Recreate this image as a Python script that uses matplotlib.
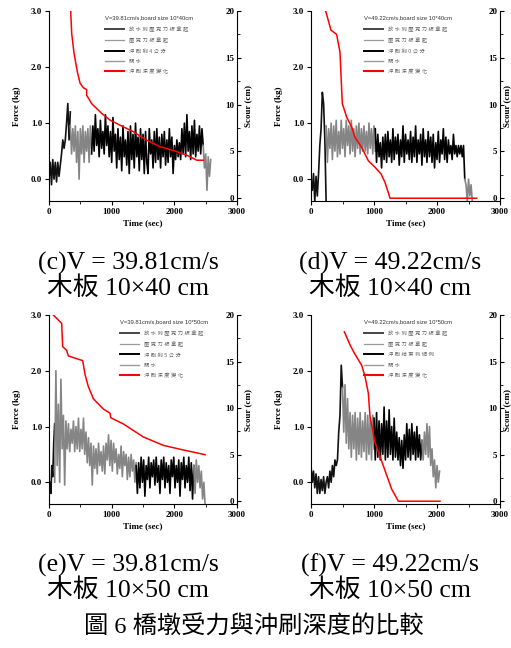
import numpy as np
import matplotlib.pyplot as plt
from matplotlib.lines import Line2D
from matplotlib.ticker import MultipleLocator, FormatStrFormatter

SERIF = ['Liberation Serif', 'Noto Sans CJK TC']
SANS = ['Liberation Sans', 'Noto Sans CJK TC']
plt.rcParams['font.family'] = SERIF

# force segments: (start time, step in sec, force values in kg)
c_seg1 = (0, 20, [0.0, 0.3, -0.1, 0.35, 0.0, 0.3, -0.05, 0.3, 0.05, 0.25, 0.45, 0.7, 0.55, 0.7, 1.0, 1.35, 0.7, 1.2])
c_seg2 = (340, 20, [0.95, 0.45, 0.9, 0.5, 0.95, 0.3, 0.85, 0.0, 0.9, 0.45, 0.95, 0.3, 0.85, 0.5, 0.9, 0.3, 0.95, 0.55])
c_seg3 = (680, 20, [0.45, 0.95, 0.5, 1.15, 0.6, 0.9, 0.4, 1.05, 0.55, 0.85,
                    0.45, 1.15, 0.6, 0.95, 0.4, 0.85, 0.3, 1.1, 0.5, 0.8,
                    0.2, 0.9, 0.35, 0.75, 0.15, 0.95, 0.4, 0.7, 0.25, 0.85,
                    0.1, 0.95, 0.35, 0.8, 0.2, 1.0, 0.4, 0.75, 0.15, 0.9,
                    0.35, 0.8, 0.1, 0.85, 0.3, 0.1, 0.9, 0.45, 0.7, 0.2,
                    0.85, 0.3, 0.9, 0.35, 0.75, 0.2, 0.8, 0.4, 0.85, 0.25,
                    0.7, 0.3, 0.9, 0.4, 0.75, 0.1, 0.6, 0.35, 0.7, 0.4,
                    0.65, 0.35, 0.9, 0.45, 1.0, 0.4, 1.15, 0.5, 0.85, 0.35,
                    0.95, 0.45, 1.05, 0.4, 0.8, 0.5, 0.95, 0.45, 0.9, 0.6])
c_seg4 = (2460, 20, [0.6, 0.2, 0.45, -0.2, 0.4, 0.05, 0.35])
c_scour_t = [346, 362, 399, 452, 495, 548, 601, 601, 681, 841, 974, 1133, 1346, 1559, 1772, 1984, 2198, 2357, 2464]
c_scour = [20, 17.6, 15.5, 13.5, 12.3, 11.8, 11.6, 11.0, 10.1, 9.06, 8.34, 7.8, 7.1, 6.2, 5.5, 5.1, 4.6, 4.06, 4.06]

d_seg1 = (0, 20, [0.0, -0.2, 0.1, -0.4, 0.05, -0.3, 0.1, 0.6, 0.9, 1.55, 1.35, 0.7, -0.4])
d_seg2 = (240, 20, [0.95, 0.3, 0.9, 0.55, 1.0, 0.35, 0.95, 0.5, 1.05, 0.4,
                    0.85, 0.45, 1.05, 0.55, 0.9, 0.4, 1.05, 0.6, 0.95, 0.45,
                    1.05, 0.5, 0.9, 0.4, 0.95, 0.55, 1.0, 0.45, 0.9, 0.5,
                    0.95, 0.5, 0.85, 0.45, 1.0, 0.55, 0.9, 0.45, 0.95, 0.5])
d_seg3 = (1020, 20, [0.9, 0.3, 0.8, 0.4, 0.65, 0.2, 0.75, 0.35, 0.8, 0.3,
                     0.85, 0.4, 0.7, 0.3, 0.9, 0.35, 0.75, 0.45, 0.8, 0.25,
                     0.7, 0.4, 0.95, 0.3, 0.8, 0.45, 0.7, 0.35, 0.85, 0.3,
                     0.75, 0.4, 0.95, 0.3, 0.7, 0.45, 0.8, 0.25, 0.9, 0.4,
                     0.7, 0.3, 0.85, 0.4, 0.75, 0.3, 0.8, 0.2, 0.65, 0.35,
                     0.85, 0.3, 0.7, 0.45, 0.9, 0.35, 0.75, 0.3, 0.7, 0.45,
                     0.6, 0.35, 0.8, 0.45, 0.6, 0.4, 0.6, 0.45, 0.6, 0.4,
                     0.6, 0.0])
d_seg4 = (2440, 20, [0.0, -0.1, -0.4, 0.0, -0.3, -0.1, -0.4])
d_scour_t = [233, 317, 407, 460, 497, 566, 646, 698, 804, 910, 1016, 1111, 1174, 1254, 2630]
d_scour = [20, 17.96, 17.5, 15.6, 10.1, 8.67, 7.6, 6.5, 5.43, 4.0, 3.3, 2.6, 1.7, 0, 0]

e_seg1 = (0, 15, [-0.3, 0.0, -0.2, 0.3, 0.1, 0.7, 1.05])
e_seg2 = (90, 20, [0.0, 2.0, 0.3, 1.4, 0.0, 1.85, 0.6, 1.2, -0.05, 1.1,
                   0.6, 1.05, 0.55, 0.95, 0.7, 1.1, 0.55, 1.0, 0.6, 1.15,
                   0.55, 0.95, 0.6, 1.15, 0.5, 0.9, 0.35, 0.8, 0.3, 0.7,
                   -0.05, 0.65, 0.25, 0.6, 0.15, 0.7, 0.3, 0.55, 0.2, 0.65,
                   0.15, 0.7, 0.4, 0.85, 0.3, 0.75, 0.2, 0.7, 0.35, 0.6,
                   0.15, 0.5, 0.25, 0.65, 0.1, 0.55, 0.3, 0.5, 0.05, 0.45,
                   0.1, 0.5, 0.2, 0.4, 0.0, 0.35])
e_seg3 = (1390, 20, [0.3, -0.2, 0.35, -0.1, 0.45, 0.0, 0.4, -0.25, 0.3, 0.05,
                     0.45, -0.1, 0.35, 0.1, 0.4, -0.05, 0.45, 0.0, 0.3, -0.2,
                     0.4, 0.05, 0.45, -0.1, 0.35, 0.0, 0.3, -0.2, 0.4, 0.1,
                     0.45, -0.1, 0.3, 0.0, 0.4, -0.25, 0.35, 0.05, 0.45, -0.1,
                     0.3, 0.0, 0.45, -0.15, 0.35, -0.3, 0.3])
e_seg4 = (2310, 20, [0.3, -0.2, 0.4, 0.0, 0.3, -0.1, 0.2, -0.3, 0.0, -0.4])
e_scour_t = [69, 202, 218, 282, 309, 537, 575, 628, 708, 867, 974, 984, 1186, 1505, 1824, 2144, 2490]
e_scour = [20, 19.1, 16.6, 16.2, 15.6, 15.1, 13.6, 12.3, 11.0, 9.9, 9.45, 8.97, 8.3, 6.9, 6.0, 5.5, 5.0]

f_seg1 = (0, 20, [0.3, 0.0, 0.2, -0.1, 0.15, -0.2, 0.1, -0.2, 0.05, -0.15,
                  0.1, -0.2, 0.0, 0.1, -0.1, 0.2, 0.0, 0.3, 0.1, 0.4,
                  0.3, 0.4, 0.9, 1.2, 2.1, 1.7])
f_seg2 = (500, 20, [1.7, 0.9, 1.75, 0.7, 1.5, 0.6, 1.25, 0.45, 1.2, 0.6,
                    1.25, 0.4, 1.15, 0.5, 1.25, 0.45, 1.1, 0.55, 1.25, 0.4,
                    1.2, 0.5, 1.15, 0.4, 1.2, 0.6])
f_seg3 = (1000, 20, [1.15, 0.4, 1.25, 0.45, 1.1, 0.4, 1.05, 0.5, 1.35, 0.4,
                     1.1, 0.45, 1.3, 0.5, 1.0, 0.4, 1.15, 0.45, 0.9, 0.4,
                     0.8, 0.3, 0.75, 0.25, 0.85, 0.4, 1.05, 0.45, 0.95, 0.4,
                     1.05, 0.5, 0.9, 0.4, 1.0, 0.45, 0.85, 0.4, 0.75])
f_seg4 = (1760, 20, [0.75, 0.4, 0.9, 0.5, 1.05, 0.45, 1.0, 0.3, 0.6, 0.1, 0.4, -0.1, 0.3, 0.0, 0.2])
f_scour_t = [529, 619, 688, 804, 857, 910, 936, 1016, 1148, 1280, 1386, 2047]
f_scour = [18.2, 16.8, 15.9, 14.6, 13.4, 11.6, 9.1, 6.3, 3.8, 1.3, 0, 0]

labels_c = ['放水到壓克力板拿起', '壓克力板拿起', '沖刷剩4公分', '關水', '沖刷深度變化']
labels_d = ['放水到壓克力板拿起', '壓克力板拿起', '沖刷剩0公分', '關水', '沖刷深度變化']
labels_e = ['放水到壓克力板拿起', '壓克力板拿起', '沖刷剩5公分', '關水', '沖刷深度變化']
labels_f = ['放水到壓克力板拿起', '壓克力板拿起', '沖刷結束到傾倒', '關水', '沖刷深度變化']

captions = ['(c)V = 39.81cm/s\n木板 10×40 cm', '(d)V = 49.22cm/s\n木板 10×40 cm',
            '(e)V = 39.81cm/s\n木板 10×50 cm', '(f)V = 49.22cm/s\n木板 10×50 cm']

seg_colors = ['#111111', '#858585', 'black', '#858585']
leg_colors = ['#444444', '#9a9a9a', 'black', '#9a9a9a']

fig = plt.figure(figsize=(5.11, 6.48), dpi=100)


def panel(rect, segs, st, sv, labels, title, leg_x, rlab_x):
    ax = fig.add_axes(rect)
    for (t0, dt, v), c in zip(segs, seg_colors):
        t = t0 + dt * np.arange(len(v))
        ax.plot(t, v, color=c, lw=1.2)
    ax.set_xlim(0, 3000)
    ax.set_ylim(-0.39, 3.0)
    ax.set_xticks([0, 1000, 2000, 3000])
    ax.xaxis.set_minor_locator(MultipleLocator(500))
    ax.set_yticks([0, 1, 2, 3])
    ax.yaxis.set_major_formatter(FormatStrFormatter('%.1f'))
    ax.spines['top'].set_visible(False)
    ax.spines['right'].set_visible(False)
    for s in ['left', 'bottom']:
        ax.spines[s].set_linewidth(0.8)
    ax.tick_params(which='major', direction='out', length=3, width=0.8, labelsize=6.5, pad=2)
    ax.tick_params(which='minor', direction='out', length=2, width=0.6)
    plt.setp(ax.get_xticklabels() + ax.get_yticklabels(), fontweight='bold')
    ax.set_xlabel('Time (sec)', fontsize=6.5, fontweight='bold', labelpad=2)
    ax.set_ylabel('Force (kg)', fontsize=6.5, fontweight='bold', labelpad=7)

    ax2 = ax.twinx()
    ax2.plot(st, sv, color='red', lw=1.1)
    ax2.set_ylim(-0.3, 20)
    ax2.set_yticks([0, 5, 10, 15, 20])
    ax2.yaxis.set_minor_locator(MultipleLocator(2.5))
    for s in ['top', 'left', 'bottom']:
        ax2.spines[s].set_visible(False)
    ax2.spines['right'].set_linewidth(0.8)
    ax2.tick_params(axis='y', which='major', direction='out', length=3, width=0.8, labelsize=6.5, pad=-5)
    ax2.tick_params(axis='y', which='minor', direction='out', length=2, width=0.6)
    plt.setp(ax2.get_yticklabels(), fontweight='bold', ha='right')
    ax2.set_ylabel('Scour (cm)', fontsize=6.5, fontweight='bold')
    ax2.yaxis.set_label_coords(rlab_x, 0.5)

    handles = [Line2D([], [], color=leg_colors[0], lw=1.4),
               Line2D([], [], color=leg_colors[1], lw=0.9),
               Line2D([], [], color=leg_colors[2], lw=1.4),
               Line2D([], [], color=leg_colors[3], lw=1.0),
               Line2D([], [], color='red', lw=1.5)]
    leg = ax2.legend(handles, [' '.join(s) for s in labels], title=title,
                     loc='upper left', bbox_to_anchor=(leg_x, 0.975), frameon=False,
                     prop={'family': SANS, 'size': 3.8}, labelcolor='#666666',
                     handlelength=3.6, handletextpad=0.9, labelspacing=1.0,
                     borderpad=0, borderaxespad=0, alignment='left',
                     title_fontproperties={'family': SANS, 'size': 4.2})
    leg.get_title().set_color('#333333')
    return ax, ax2


panel([0.0959, 0.6898, 0.368, 0.2932], [c_seg1, c_seg2, c_seg3, c_seg4], c_scour_t, c_scour,
      labels_c, 'V=39.81cm/s,board size 10*40cm', 0.30, 1.04)
panel([0.6086, 0.6898, 0.370, 0.2932], [d_seg1, d_seg2, d_seg3, d_seg4], d_scour_t, d_scour,
      labels_d, 'V=49.22cm/s,board size 10*40cm', 0.28, 1.014)
panel([0.0959, 0.2222, 0.368, 0.2917], [e_seg1, e_seg2, e_seg3, e_seg4], e_scour_t, e_scour,
      labels_e, 'V=39.81cm/s,board size 10*50cm', 0.38, 1.04)
panel([0.6086, 0.2222, 0.370, 0.2917], [f_seg1, f_seg2, f_seg3, f_seg4], f_scour_t, f_scour,
      labels_f, 'V=49.22cm/s,board size 10*50cm', 0.28, 1.014)

cap_xy = [(128, 276), (390, 276), (128, 578), (390, 578)]
for (x, y), txt in zip(cap_xy, captions):
    fig.text(x / 511, 1 - y / 648, txt, ha='center', va='center', fontsize=18.5, linespacing=1.05)
fig.text(254 / 511, 1 - 626 / 648, '圖 6 橋墩受力與沖刷深度的比較', ha='center', va='center', fontsize=17.5)

fig.savefig('out.png', dpi=100)
